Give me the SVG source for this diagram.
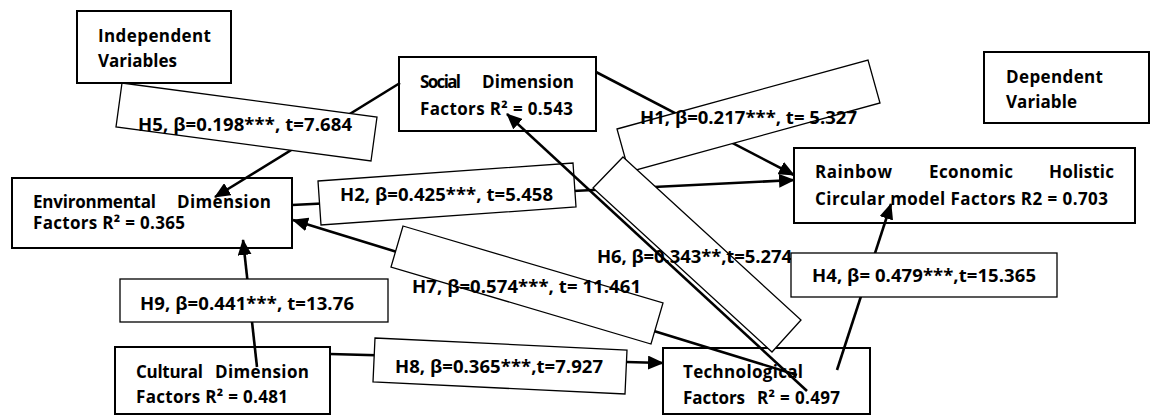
<svg xmlns="http://www.w3.org/2000/svg" width="1155" height="416" viewBox="0 0 1155 416">
<defs>
<style>
.node{fill:#fff;stroke:#000;stroke-width:2}
.lbl{fill:#fff;stroke:#000;stroke-width:1.3}
.con{fill:none;stroke:#000;stroke-width:2.6}
text{font-family:"Open Sans",Lato,"Liberation Sans",sans-serif;font-weight:bold;fill:#000}
.nt{font-size:17px}
.lt{font-size:18.5px}
</style>
<marker id="ah" markerUnits="userSpaceOnUse" markerWidth="16" markerHeight="14" refX="15" refY="7" orient="auto" viewBox="0 0 16 14">
<path d="M0,0 L16,7 L0,14 z" fill="#000"/>
</marker>
</defs>
<rect width="1155" height="416" fill="#fff"/>

<g id="node-independent">
<rect class="node" x="77" y="11" width="154" height="72"/>
<text class="nt" x="98" y="42" textLength="113">Independent</text>
<text class="nt" x="98" y="67" textLength="79">Variables</text>
</g>
<g id="node-dependent">
<rect class="node" x="984" y="52" width="165" height="71"/>
<text class="nt" x="1006" y="83" textLength="97">Dependent</text>
<text class="nt" x="1006" y="108" textLength="71">Variable</text>
</g>
<g id="node-social">
<rect class="node" x="399" y="57" width="197" height="74"/>
<text class="nt" x="420" y="88" textLength="41">Social</text>
<text class="nt" x="482" y="88" textLength="92">Dimension</text>
<text class="nt" x="420" y="115" textLength="153">Factors R² = 0.543</text>
</g>
<g id="node-rainbow">
<rect class="node" x="794" y="148" width="341" height="75"/>
<text class="nt" x="815" y="178" textLength="77">Rainbow</text>
<text class="nt" x="929" y="178" textLength="84">Economic</text>
<text class="nt" x="1049" y="178" textLength="65">Holistic</text>
<text class="nt" x="815" y="205" textLength="293">Circular model Factors R2 = 0.703</text>
</g>
<g id="node-environmental">
<rect class="node" x="12" y="178" width="280" height="70"/>
<text class="nt" x="33" y="208" textLength="123">Environmental</text>
<text class="nt" x="177" y="208" textLength="94">Dimension</text>
<text class="nt" x="33" y="229" textLength="152">Factors R² = 0.365</text>
</g>
<g id="node-cultural">
<rect class="node" x="115" y="347" width="215" height="67"/>
<text class="nt" x="136" y="378" textLength="67">Cultural</text>
<text class="nt" x="215" y="378" textLength="94">Dimension</text>
<text class="nt" x="136" y="403" textLength="152">Factors R² = 0.481</text>
</g>
<g id="node-technological">
<rect class="node" x="663" y="348" width="207" height="66"/>
<text class="nt" x="683" y="378" textLength="120">Technological</text>
<text class="nt" x="683" y="404" textLength="62">Factors</text>
<text class="nt" x="757" y="404" textLength="83">R² = 0.497</text>
</g>

<g id="connectors">
<line class="con" x1="400" y1="83" x2="215" y2="197" marker-end="url(#ah)"/>
<line class="con" x1="596" y1="72" x2="794" y2="175" marker-end="url(#ah)"/>
<line class="con" x1="292" y1="205" x2="794" y2="180" marker-end="url(#ah)"/>
<line class="con" x1="797" y1="375" x2="293" y2="220" marker-end="url(#ah)"/>
<line class="con" x1="257" y1="367" x2="243" y2="240" marker-end="url(#ah)"/>
<line class="con" x1="330" y1="354" x2="663" y2="363" marker-end="url(#ah)"/>
<line class="con" x1="837" y1="370" x2="891" y2="204" marker-end="url(#ah)"/>
</g>

<g id="label-h5">
<polygon class="lbl" points="122,83 377,117 371,161 116,127"/>
<text class="lt" x="138" y="131" textLength="214">H5, β=0.198***, t=7.684</text>
</g>
<g id="label-h1">
<polygon class="lbl" points="617,129 868,60 880,103 629,172"/>
<text class="lt" x="640" y="124" textLength="217">H1, β=0.217***, t= 5.327</text>
</g>
<g id="label-h2">
<polygon class="lbl" points="318,181 573,163 576,207 321,225"/>
<text class="lt" x="340" y="201" textLength="213">H2, β=0.425***, t=5.458</text>
</g>
<g id="label-h6">
<polygon class="lbl" points="623,157 801,320 772,352 593,188"/>
<text class="lt" x="597" y="263" textLength="195">H6, β=0.343**,t=5.274</text>
</g>
<g id="label-h7">
<polygon class="lbl" points="403,226 663,303 651,344 391,267"/>
<text class="lt" x="412" y="293" textLength="229">H7, β=0.574***, t= 11.461</text>
</g>
<g id="label-h9">
<rect class="lbl" x="120" y="279" width="268" height="43"/>
<text class="lt" x="140" y="310" textLength="214">H9, β=0.441***, t=13.76</text>
</g>
<g id="label-h8">
<polygon class="lbl" points="375,338 627,350 625,394 373,382"/>
<text class="lt" x="395" y="373" textLength="208">H8, β=0.365***,t=7.927</text>
</g>
<g id="label-h4">
<rect class="lbl" x="791" y="253" width="266" height="44"/>
<text class="lt" x="812" y="282" textLength="224">H4, β= 0.479***,t=15.365</text>
</g>

<g id="connectors-top">
<line class="con" x1="807" y1="391" x2="507" y2="114" marker-end="url(#ah)"/>
</g>
</svg>
